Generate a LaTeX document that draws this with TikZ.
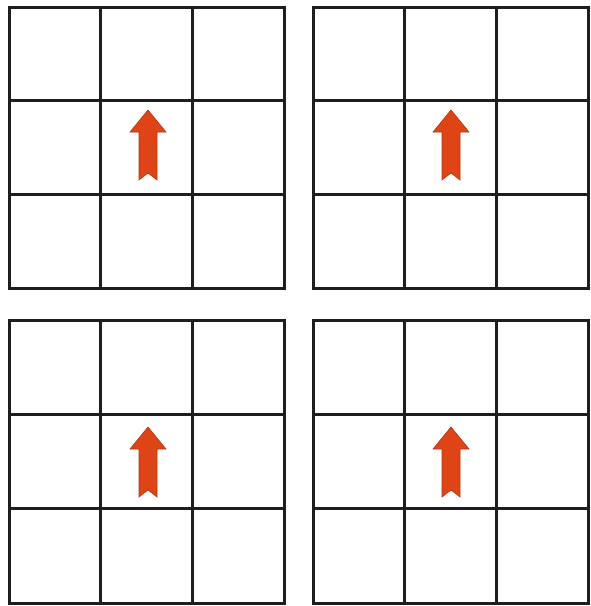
\documentclass[tikz,border=0pt]{standalone}
\definecolor{arrowred}{RGB}{222,68,22}
\definecolor{gridline}{RGB}{30,30,30}
\tikzset{
  gridstyle/.style={draw=gridline, line width=3pt},
  arrowstyle/.style={fill=arrowred, draw=arrowred!80!black, line width=0.6pt, line join=miter},
  pics/gridbox/.style n args={4}{code={
    \draw[gridstyle] (#1,#3) rectangle (#2,#4);
    \pgfmathsetmacro{\xa}{#1+(#2-#1)/3}
    \pgfmathsetmacro{\xb}{#1+2*(#2-#1)/3}
    \pgfmathsetmacro{\ya}{#3+(#4-#3)/3}
    \pgfmathsetmacro{\yb}{#3+2*(#4-#3)/3}
    \draw[gridstyle] (\xa,#3) -- (\xa,#4);
    \draw[gridstyle] (\xb,#3) -- (\xb,#4);
    \draw[gridstyle] (#1,\ya) -- (#2,\ya);
    \draw[gridstyle] (#1,\yb) -- (#2,\yb);
  }},
  pics/uparrow/.style={code={
    \fill[arrowstyle] (0,0) -- (18,22) -- (9,22) -- (9,70) -- (0,63) -- (-9,70) -- (-9,22) -- (-18,22) -- cycle;
  }}
}
\begin{document}
\begin{tikzpicture}[x=1pt,y=-1pt]
\useasboundingbox[fill=white] (0,0) rectangle (591,606);
\pic (g1) {gridbox={9}{284}{7}{288}};
\pic (g2) {gridbox={313}{588}{7}{288}};
\pic (g3) {gridbox={9}{284}{320}{603}};
\pic (g4) {gridbox={313}{588}{320}{603}};
\pic (a1) at (148,110) {uparrow};
\pic (a2) at (451,110) {uparrow};
\pic (a3) at (148,427) {uparrow};
\pic (a4) at (451,427) {uparrow};
\end{tikzpicture}
\end{document}
